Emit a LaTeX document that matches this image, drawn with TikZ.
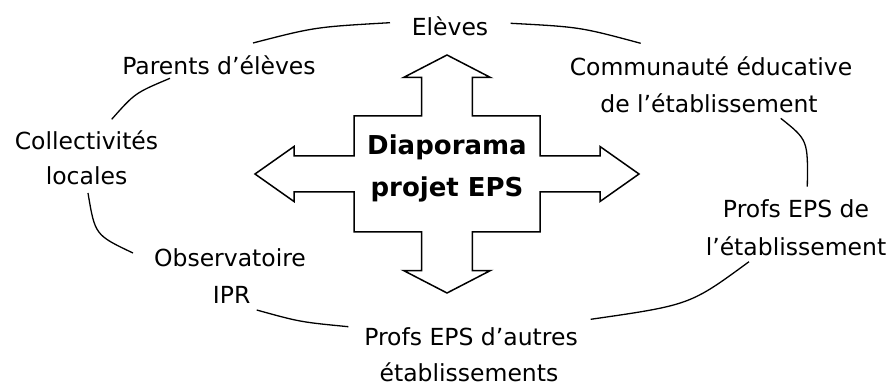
\documentclass[tikz,border=0pt]{standalone}
\usepackage{fontspec}
\setmainfont{DejaVu Sans}
\begin{document}
\begin{tikzpicture}[x=1pt,y=-1pt,
  lab/.style={font=\fontsize{23.5}{28}\selectfont, anchor=base, inner sep=0pt},
  ttl/.style={font=\bfseries\fontsize{26}{30}\selectfont, anchor=base, inner sep=0pt},
  link/.style={line width=1.3pt},
  crossline/.style={line width=1.5pt, line join=miter}]
\useasboundingbox (0,0) rectangle (888,387);
% cross of arrows
\begin{scope}[shift={(447,174)}]
\draw[crossline] (0,-119) -- (43.5,-96.5) -- (25.3,-96.5) -- (25.3,-58) -- (93,-58) -- (93,-18)
  -- (153,-18) -- (153,-27.5) -- (192,0) -- (153,27.5) -- (153,18) -- (93,18) -- (93,58)
  -- (25.3,58) -- (25.3,96.5) -- (43.5,96.5) -- (0,119) -- (-43.5,96.5) -- (-25.3,96.5)
  -- (-25.3,58) -- (-93,58) -- (-93,18) -- (-153,18) -- (-153,27.5) -- (-192,0)
  -- (-153,-27.5) -- (-153,-18) -- (-93,-18) -- (-93,-58) -- (-25.3,-58) -- (-25.3,-96.5)
  -- (-43.5,-96.5) -- cycle;
\end{scope}
\node[ttl] (t1) at (447,155) {Diaporama};
\node[ttl] (t2) at (447,196.5) {projet EPS};
% labels
\node[lab] (el) at (450,36) {Elèves};
\node[lab] (pa) at (219,75) {Parents d’élèves};
\node[lab] (co1) at (86.5,149.3) {Collectivités};
\node[lab] (co2) at (86.5,185) {locales};
\node[lab] (cm1) at (711,76) {Communauté éducative};
\node[lab] (cm2) at (709,112.7) {de l’établissement};
\node[lab] (pe1) at (796,217.7) {Profs EPS de};
\node[lab] (pe2) at (796,255) {l’établissement};
\node[lab] (ob1) at (230,266) {Observatoire};
\node[lab] (ob2) at (231.7,303.3) {IPR};
\node[lab] (pa1) at (471,345) {Profs EPS d’autres};
\node[lab] (pa2) at (469,381.7) {établissements};
% connector ends
\coordinate (a1) at (253,43);   \coordinate (a2) at (390,22.7);
\coordinate (b1) at (510.7,23.3); \coordinate (b2) at (640.7,43.3);
\coordinate (c1) at (170,78.3);  \coordinate (c2) at (111.7,119.3);
\coordinate (d1) at (88,193);    \coordinate (d2) at (133,253);
\coordinate (e1) at (256.7,310); \coordinate (e2) at (348.3,326.7);
\coordinate (f1) at (590.7,319.3); \coordinate (f2) at (749,261.7);
\coordinate (g1) at (780.7,118.3); \coordinate (g2) at (807.3,186.7);
\draw[link] (a1) .. controls (315,27) .. (a2);
\draw[link] (b1) .. controls (580,27) .. (b2);
\draw[link] (c1) .. controls (135,93) .. (c2);
\draw[link] (d1) .. controls (95,235) .. (d2);
\draw[link] (e1) .. controls (300,322) .. (e2);
\draw[link] (f1) .. controls (690,305) .. (f2);
\draw[link] (g1) .. controls (808,140) .. (g2);
\end{tikzpicture}
\end{document}
